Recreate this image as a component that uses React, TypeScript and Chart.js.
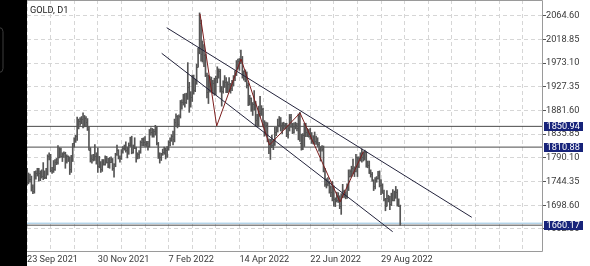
import React, { useEffect, useRef } from 'react';
import { Chart, registerables } from 'chart.js';

Chart.register(...registerables);

// Daily GOLD bars, index 0 = 23 Sep 2021 ... index 253 = 15 Sep 2022
const opens = [
  1768,1743,1750,1750,1734,1726,1757,1761,1769,1760,
  1763,1756,1757,1754,1760,1793,1797,1767,1765,1769,
  1783,1783,1792,1807,1793,1798,1800,1784,1793,1788,
  1769,1792,1818,1824,1832,1849,1862,1865,1866,1851,
  1868,1860,1846,1806,1790,1788,1791,1793,1785,1774,
  1781,1769,1783,1779,1785,1783,1775,1783,1787,1771,
  1778,1798,1805,1792,1789,1803,1809,1811,1805,1805,
  1815,1829,1801,1814,1810,1791,1797,1801,1821,1826,
  1821,1817,1818,1813,1843,1840,1835,1842,1848,1819,
  1797,1791,1797,1801,1808,1805,1808,1821,1825,1833,
  1827,1859,1871,1855,1870,1898,1898,1906,1898,1910,
  1926,1890,1908,1943,1921,1935,1966,1995,2050,1991,
  1999,1988,1951,1917,1928,1943,1922,1935,1921,1944,
  1958,1957,1923,1919,1933,1937,1925,1932,1923,1925,
  1932,1946,1954,1966,1977,1974,1979,1950,1958,1951,
  1931,1898,1905,1886,1894,1897,1863,1868,1881,1877,
  1884,1855,1839,1853,1822,1811,1824,1815,1816,1841,
  1846,1854,1866,1853,1851,1853,1855,1837,1847,1869,
  1851,1841,1852,1853,1848,1871,1819,1809,1834,1851,
  1840,1838,1832,1838,1823,1826,1823,1821,1817,1807,
  1811,1808,1764,1739,1740,1742,1733,1725,1735,1711,
  1708,1709,1711,1697,1719,1727,1719,1717,1734,1756,
  1765,1771,1760,1765,1791,1775,1789,1795,1792,1789,
  1802,1779,1776,1761,1759,1747,1736,1748,1751,1758,
  1738,1738,1723,1711,1697,1712,1710,1702,1718,1708,
  1716,1724,1702,1697,
];
const highs = [
  1770,1761,1759,1755,1738,1764,1765,1770,1770,1765,
  1767,1781,1765,1770,1796,1800,1797,1772,1785,1787,
  1789,1814,1810,1809,1800,1802,1801,1796,1794,1792,
  1795,1818,1829,1834,1869,1865,1868,1870,1877,1872,
  1870,1866,1849,1810,1796,1797,1816,1800,1809,1793,
  1783,1787,1787,1794,1793,1789,1791,1792,1789,1779,
  1799,1815,1806,1794,1806,1812,1815,1821,1811,1819,
  1830,1832,1815,1829,1811,1800,1804,1823,1828,1829,
  1831,1822,1822,1845,1848,1847,1845,1853,1851,1820,
  1800,1799,1807,1811,1809,1812,1823,1829,1835,1842,
  1865,1875,1872,1873,1901,1902,1913,1914,1915,1974,
  1936,1918,1950,1950,1942,1971,2002,2070,2056,2016,
  2009,1991,1954,1950,1947,1946,1940,1944,1948,1966,
  1962,1961,1928,1939,1949,1945,1937,1945,1934,1940,
  1949,1958,1978,1981,1982,1998,1986,1958,1960,1956,
  1935,1911,1906,1897,1920,1899,1874,1890,1909,1891,
  1886,1862,1859,1858,1827,1826,1834,1825,1849,1849,
  1865,1870,1868,1858,1859,1857,1857,1853,1874,1874,
  1857,1858,1859,1857,1875,1878,1836,1837,1857,1857,
  1847,1845,1847,1839,1833,1840,1832,1829,1820,1812,
  1814,1813,1770,1750,1752,1745,1736,1745,1736,1713,
  1724,1723,1717,1721,1739,1728,1725,1740,1767,1767,
  1774,1788,1773,1797,1792,1792,1800,1807,1802,1805,
  1802,1784,1784,1767,1762,1748,1752,1754,1764,1765,
  1748,1740,1728,1712,1727,1718,1716,1722,1729,1726,
  1735,1729,1711,1699,
];
const lows = [
  1738,1740,1743,1726,1721,1722,1749,1755,1745,1746,
  1751,1748,1750,1750,1757,1786,1763,1760,1762,1766,
  1777,1778,1790,1791,1783,1791,1770,1780,1783,1758,
  1762,1783,1811,1820,1824,1846,1853,1856,1848,1850,
  1851,1843,1805,1782,1780,1784,1785,1778,1762,1771,
  1762,1764,1776,1776,1780,1771,1770,1781,1766,1753,
  1773,1795,1788,1782,1787,1799,1805,1801,1790,1797,
  1812,1798,1799,1808,1782,1788,1789,1799,1813,1813,
  1812,1812,1805,1811,1834,1830,1830,1834,1815,1789,
  1780,1785,1795,1797,1788,1791,1805,1813,1822,1815,
  1821,1851,1848,1851,1867,1884,1892,1888,1895,1903,
  1878,1888,1899,1913,1918,1932,1965,1991,1977,1975,
  1966,1947,1906,1895,1917,1917,1914,1911,1912,1935,
  1944,1917,1890,1915,1926,1916,1916,1918,1915,1920,
  1929,1939,1949,1962,1959,1972,1944,1940,1937,1925,
  1891,1892,1880,1872,1882,1851,1850,1850,1870,1872,
  1850,1832,1834,1821,1798,1787,1810,1806,1814,1833,
  1840,1850,1842,1837,1845,1846,1831,1828,1842,1849,
  1837,1838,1846,1842,1825,1822,1805,1806,1812,1831,
  1831,1830,1826,1818,1817,1816,1816,1812,1803,1784,
  1803,1763,1735,1732,1736,1722,1715,1707,1697,1696,
  1705,1704,1692,1681,1713,1714,1711,1712,1727,1753,
  1754,1759,1754,1763,1754,1771,1784,1782,1784,1786,
  1772,1771,1760,1753,1745,1727,1730,1743,1749,1734,
  1719,1722,1707,1688,1697,1705,1690,1698,1707,1707,
  1712,1697,1696,1660,
];
const closes = [
  1743,1750,1750,1734,1726,1757,1761,1769,1760,1763,
  1756,1757,1754,1760,1793,1797,1767,1765,1769,1783,
  1783,1792,1807,1793,1798,1800,1784,1793,1788,1769,
  1792,1818,1824,1832,1849,1862,1865,1866,1851,1868,
  1860,1846,1806,1790,1788,1791,1793,1785,1774,1781,
  1769,1783,1779,1785,1783,1775,1783,1787,1771,1778,
  1798,1805,1792,1789,1803,1809,1811,1805,1805,1815,
  1829,1801,1814,1810,1791,1797,1801,1821,1826,1821,
  1817,1818,1813,1843,1840,1835,1842,1848,1819,1797,
  1791,1797,1801,1808,1805,1808,1821,1825,1833,1827,
  1859,1871,1855,1870,1898,1898,1906,1898,1910,1926,
  1890,1908,1943,1921,1935,1966,1995,2050,1991,1999,
  1988,1951,1917,1928,1943,1922,1935,1921,1944,1958,
  1957,1923,1919,1933,1937,1925,1932,1923,1925,1932,
  1946,1954,1966,1977,1974,1979,1950,1958,1951,1931,
  1898,1905,1886,1894,1897,1863,1868,1881,1877,1884,
  1855,1839,1853,1822,1811,1824,1815,1816,1841,1846,
  1854,1866,1853,1851,1853,1855,1837,1847,1869,1851,
  1841,1852,1853,1848,1871,1819,1809,1834,1851,1840,
  1838,1832,1838,1823,1826,1823,1821,1817,1807,1811,
  1808,1764,1739,1740,1742,1733,1725,1735,1711,1708,
  1709,1711,1697,1719,1727,1719,1717,1734,1756,1765,
  1771,1760,1765,1791,1775,1789,1795,1792,1789,1802,
  1779,1776,1761,1759,1747,1736,1748,1751,1758,1738,
  1738,1723,1711,1697,1712,1710,1702,1718,1708,1716,
  1724,1702,1697,1664,
];

// Axis ticks
const xGridIdx = [0,16,32,48,64,80,96,112,128,144,160,176,192,208,224,240,256,272,288,304,320,336];
const xLabelIdx = [0, 48, 96, 144, 192, 240];
const xLabels = ['23 Sep 2021', '30 Nov 2021', '7 Feb 2022', '14 Apr 2022', '22 Jun 2022', '29 Aug 2022'];
const yTicks = [2064.60, 2018.85, 1973.10, 1927.35, 1881.60, 1835.85, 1790.10, 1744.35, 1698.60, 1652.85];

// Drawn objects
const levelPrices = [1850.94, 1810.88, 1660.17];
const bidPrice = 1664;
const upperChannel = [{ x: 94.7, y: 2041.4 }, { x: 301.5, y: 1675.4 }];
const lowerChannel = [{ x: 91.3, y: 1992.0 }, { x: 247.9, y: 1647.6 }];
const zigzag = [
  { x: 117.3, y: 2067.9 },
  { x: 128.6, y: 1851.7 },
  { x: 145.1, y: 1981.0 },
  { x: 164.4, y: 1815.0 },
  { x: 185.1, y: 1876.8 },
  { x: 212.2, y: 1705.0 },
  { x: 228.0, y: 1802.0 },
];

const X_MAX = 349.8;
const Y_MIN = 1608.4;
const Y_MAX = 2094.9;
const FONT = { family: 'Roboto', size: 9.2 };
const BAR_COLOR = '#555555';
const BOX_COLOR = '#17237a';

export default function App() {
  const ref = useRef<HTMLCanvasElement | null>(null);

  useEffect(() => {
    const canvas = ref.current;
    if (!canvas) return;

    const background = {
      id: 'background',
      beforeDraw(chart: any) {
        const { ctx, width, height } = chart;
        ctx.save();
        ctx.fillStyle = '#ffffff';
        ctx.fillRect(0, 0, width, height);
        ctx.fillStyle = '#000000';
        ctx.fillRect(0, 0, 27, height);
        ctx.strokeStyle = '#3c3c3c';
        ctx.lineWidth = 1;
        ctx.beginPath();
        if ((ctx as any).roundRect) {
          (ctx as any).roundRect(-10.5, 27.5, 13.5, 45, 4);
        } else {
          ctx.rect(-10.5, 27.5, 13.5, 45);
        }
        ctx.stroke();
        ctx.restore();
      },
    };

    const ohlcTicks = {
      id: 'ohlcTicks',
      afterDatasetDraw(chart: any, args: any) {
        if (args.index !== 4) return;
        const { ctx, chartArea } = chart;
        const xs = chart.scales.x;
        const ys = chart.scales.y;
        ctx.save();
        ctx.beginPath();
        ctx.rect(chartArea.left, chartArea.top, chartArea.right - chartArea.left, chartArea.bottom - chartArea.top);
        ctx.clip();
        ctx.strokeStyle = BAR_COLOR;
        ctx.lineWidth = 1;
        ctx.beginPath();
        for (let i = 0; i < opens.length; i++) {
          const px = xs.getPixelForValue(i);
          const yo = Math.round(ys.getPixelForValue(opens[i])) + 0.5;
          const yc = Math.round(ys.getPixelForValue(closes[i])) + 0.5;
          ctx.moveTo(px - 1, yo);
          ctx.lineTo(px, yo);
          ctx.moveTo(px, yc);
          ctx.lineTo(px + 1, yc);
        }
        ctx.stroke();
        ctx.restore();
      },
    };

    const overlay = {
      id: 'overlay',
      afterDraw(chart: any) {
        const { ctx, chartArea } = chart;
        const ys = chart.scales.y;
        ctx.save();
        ctx.strokeStyle = '#9a9a9a';
        ctx.lineWidth = 1;
        ctx.beginPath();
        ctx.moveTo(chartArea.left, chartArea.top + 0.5);
        ctx.lineTo(chartArea.right - 0.5, chartArea.top + 0.5);
        ctx.lineTo(chartArea.right - 0.5, chartArea.bottom - 0.5);
        ctx.lineTo(chartArea.left, chartArea.bottom - 0.5);
        ctx.stroke();
        ctx.fillStyle = '#222222';
        ctx.font = `${FONT.size}px ${FONT.family}`;
        ctx.textBaseline = 'middle';
        ctx.textAlign = 'left';
        ctx.fillText('GOLD, D1', chartArea.left + 3, 10.5);
        levelPrices.forEach((p) => {
          const py = ys.getPixelForValue(p);
          ctx.fillStyle = BOX_COLOR;
          ctx.fillRect(chartArea.right + 1, Math.round(py - 4.5), 39, 9);
          ctx.fillStyle = '#ffffff';
          ctx.fillText(p.toFixed(2), chartArea.right + 3.5, py + 0.5);
        });
        ctx.restore();
      },
    };

    const lineDs = (data: any[], color: string, order: number) => ({
      type: 'line' as const,
      data,
      borderColor: color,
      borderWidth: 1,
      pointRadius: 0,
      tension: 0,
      fill: false,
      order,
    });

    const chart = new Chart(canvas, {
      type: 'bar',
      data: {
        datasets: [
          lineDs([{ x: 0, y: levelPrices[0] }, { x: X_MAX, y: levelPrices[0] }], '#4a4a4a', 10) as any,
          lineDs([{ x: 0, y: levelPrices[1] }, { x: X_MAX, y: levelPrices[1] }], '#4a4a4a', 10) as any,
          lineDs([{ x: 0, y: levelPrices[2] }, { x: X_MAX, y: levelPrices[2] }], '#4a4a4a', 10) as any,
          lineDs([{ x: 0, y: bidPrice }, { x: X_MAX, y: bidPrice }], '#93c0de', 10) as any,
          {
            type: 'bar' as const,
            data: lows.map((l, i) => ({ x: i, y: [l, highs[i]] })) as any,
            backgroundColor: BAR_COLOR,
            borderWidth: 0,
            barThickness: 1,
            order: 5,
          },
          lineDs(upperChannel, '#23233c', 1) as any,
          lineDs(lowerChannel, '#23233c', 1) as any,
          lineDs(zigzag, '#7c1e1e', 0) as any,
        ],
      },
      options: {
        responsive: false,
        animation: false,
        events: [],
        layout: { padding: { left: 27, top: 0, right: 0, bottom: 0 } },
        plugins: { legend: { display: false }, tooltip: { enabled: false }, title: { display: false } },
        scales: {
          x: {
            type: 'linear',
            position: 'bottom',
            min: 0,
            max: X_MAX,
            offset: false,
            grid: { color: '#d6d6d6', drawTicks: false, offset: false, lineWidth: 1 },
            border: { display: false, dash: [4, 3] },
            ticks: {
              autoSkip: false,
              maxRotation: 0,
              minRotation: 0,
              align: 'start',
              padding: 2,
              color: '#3a3a3a',
              font: FONT,
              callback: (v: any) => {
                const k = xLabelIdx.indexOf(Number(v));
                return k >= 0 ? xLabels[k] : '';
              },
            },
            afterBuildTicks: (s: any) => {
              s.ticks = xGridIdx.map((v) => ({ value: v }));
            },
            afterFit: (s: any) => {
              s.height = 14;
              s.paddingLeft = 0;
              s.paddingRight = 0;
            },
          },
          y: {
            type: 'linear',
            position: 'right',
            min: Y_MIN,
            max: Y_MAX,
            beginAtZero: false,
            grid: { color: '#d6d6d6', tickColor: '#555555', tickLength: 3, tickBorderDash: [], lineWidth: 1 },
            border: { display: false, dash: [4, 3] },
            ticks: {
              padding: 0,
              color: '#3a3a3a',
              font: FONT,
              callback: (v: any) => Number(v).toFixed(2),
            },
            afterBuildTicks: (s: any) => {
              s.ticks = yTicks.map((v) => ({ value: v }));
            },
            afterFit: (s: any) => {
              s.width = 47;
              s.paddingTop = 0;
              s.paddingBottom = 0;
            },
          },
        },
      } as any,
      plugins: [background, ohlcTicks, overlay],
    });

    return () => chart.destroy();
  }, []);

  return (
    <div style={{ position: 'fixed', left: 0, top: 0, width: 590, height: 266, background: '#fff' }}>
      <canvas ref={ref} width={590} height={266} style={{ display: 'block', width: 590, height: 266 }} />
    </div>
  );
}
